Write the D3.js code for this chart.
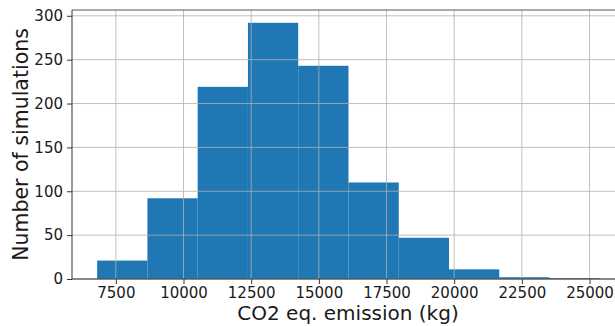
<!DOCTYPE html>
<html>
<head>
<meta charset="utf-8">
<script src="https://cdn.jsdelivr.net/npm/d3@7"></script>
<style>
  body { margin: 0; background: #fff; }
  svg { display: block; font-family: "DejaVu Sans", sans-serif; }
</style>
</head>
<body>
<div id="svg-container"></div>
<script>
// bin edges (kg) and counts
const binEdges = [6809, 8666, 10523, 12380, 14237, 16095, 17952, 19809, 21666, 23523, 25382]
const counts = [21, 92, 219, 292, 243, 110, 47, 11, 2, 1]
const xTicks = [7500, 10000, 12500, 15000, 17500, 20000, 22500, 25000]
const yTicks = [0, 50, 100, 150, 200, 250, 300]

const width = 615
const height = 326
const margin = { top: 10, right: -10, bottom: 47, left: 72 }
const innerWidth = width - margin.left - margin.right
const innerHeight = height - margin.top - margin.bottom

const bins = counts.map((c, i) => ({ x0: binEdges[i], x1: binEdges[i + 1], count: c }))

const svg = d3.select('#svg-container')
    .append('svg').attr('width', width).attr('height', height)

// 5% marge op x, 5% ruimte boven op y (zoals matplotlib)
const span = binEdges[binEdges.length - 1] - binEdges[0]
const xScale = d3.scaleLinear()
    .domain([binEdges[0] - span * 0.05, binEdges[binEdges.length - 1] + span * 0.05])
    .range([0, innerWidth])
const yScale = d3.scaleLinear()
    .domain([0, d3.max(counts) * 1.05])
    .range([innerHeight, 0])

const g = svg.append('g')
    .attr('transform', `translate(${margin.left}, ${margin.top})`)

// bars
g.selectAll('rect')
    .data(bins)
    .enter().append('rect')
    .attr('x', d => xScale(d.x0))
    .attr('y', d => yScale(d.count))
    .attr('width', d => xScale(d.x1) - xScale(d.x0))
    .attr('height', d => innerHeight - yScale(d.count))
    .attr('fill', '#1f77b4')

// grid boven de bars
g.append('g').selectAll('line')
    .data(xTicks)
    .enter().append('line')
    .attr('x1', d => xScale(d)).attr('x2', d => xScale(d))
    .attr('y1', 0).attr('y2', innerHeight)
    .attr('stroke', '#b0b0b0').attr('stroke-width', 0.8)
g.append('g').selectAll('line')
    .data(yTicks)
    .enter().append('line')
    .attr('x1', 0).attr('x2', innerWidth)
    .attr('y1', d => yScale(d)).attr('y2', d => yScale(d))
    .attr('stroke', '#b0b0b0').attr('stroke-width', 0.8)

// assen
const xAxis = d3.axisBottom(xScale).tickValues(xTicks).tickFormat(d3.format('d')).tickSize(5).tickPadding(3)
const yAxis = d3.axisLeft(yScale).tickValues(yTicks).tickFormat(d3.format('d')).tickSize(5).tickPadding(4)

const xAxisG = g.append('g')
    .attr('transform', `translate(0, ${innerHeight})`)
    .call(xAxis)
const yAxisG = g.append('g').call(yAxis)

xAxisG.selectAll('.domain').remove()
yAxisG.selectAll('.domain').remove()
g.selectAll('.tick text').attr('font-size', 15).attr('fill', '#1a1a1a')
    .attr('font-family', '"DejaVu Sans", sans-serif')
g.selectAll('.tick line').attr('stroke', '#333')

// spines
g.append('line').attr('x1', 0).attr('x2', innerWidth).attr('y1', innerHeight).attr('y2', innerHeight)
    .attr('stroke', '#333').attr('stroke-width', 1)
g.append('line').attr('x1', 0).attr('x2', 0).attr('y1', 0).attr('y2', innerHeight)
    .attr('stroke', '#333').attr('stroke-width', 1)
g.append('line').attr('x1', 0).attr('x2', innerWidth).attr('y1', 0).attr('y2', 0)
    .attr('stroke', '#555').attr('stroke-width', 1)

// labels
svg.append('text')
    .attr('x', 348).attr('y', 320)
    .attr('text-anchor', 'middle')
    .attr('font-size', 20)
    .attr('fill', '#1a1a1a')
    .text('CO2 eq. emission (kg)')
svg.append('text')
    .attr('transform', `translate(28, ${margin.top + innerHeight / 2}) rotate(-90)`)
    .attr('text-anchor', 'middle')
    .attr('font-size', 20.5)
    .attr('fill', '#1a1a1a')
    .text('Number of simulations')
</script>
</body>
</html>
